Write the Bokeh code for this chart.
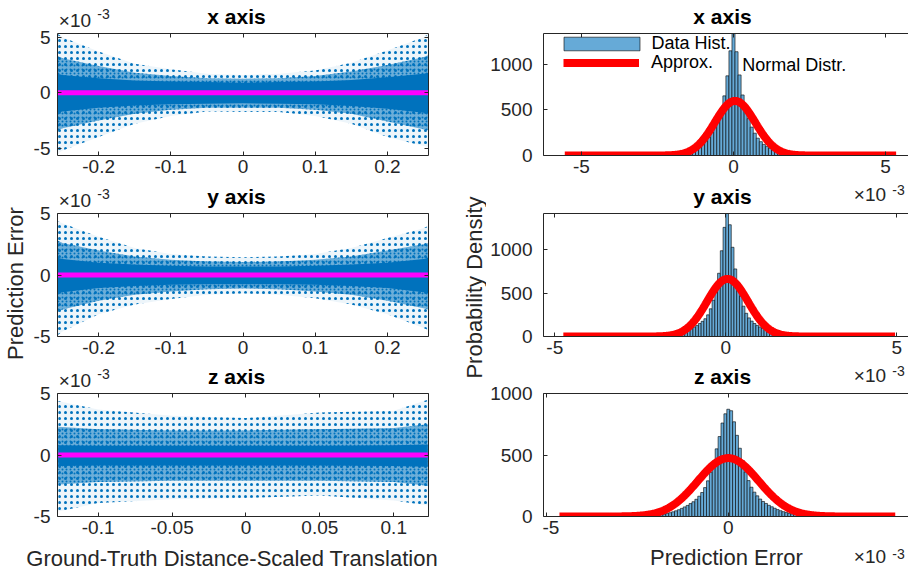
import numpy as np
from bokeh.plotting import figure
from bokeh.layouts import row, column
from bokeh.models import Range1d, LinearAxis, FixedTicker, Label, Legend, LegendItem, Spacer
from bokeh.embed import file_html
from bokeh.resources import INLINE

FONT = "Liberation Sans"
AX = "#262626"
BLUE = "#0072BD"
HIST_FILL = "#66AAD7"
MAGENTA = "#FF00FF"
RED = "#FF0000"

# ------------------------------------------------------------------ data
# Left column: prediction error (x10^-3) vs ground-truth distance-scaled translation.
# The clouds are described by their envelopes.
tl_x = [-0.257, -0.25, -0.2, -0.15, -0.1, -0.05, 0.0, 0.05, 0.1, 0.15, 0.2, 0.25, 0.257]
tl_outer_hi = [5.3, 5.0, 3.7, 2.6, 2.1, 1.7, 1.6, 1.7, 2.0, 2.7, 3.8, 5.0, 5.3]
tl_outer_lo = [-5.5, -5.2, -4.0, -2.8, -2.1, -1.7, -1.75, -1.75, -2.1, -2.8, -4.0, -4.8, -4.9]
tl_mid_hi = [3.3, 3.1, 2.4, 1.8, 1.5, 1.3, 1.25, 1.3, 1.5, 1.9, 2.5, 3.2, 3.4]
tl_mid_lo = [-3.4, -3.2, -2.5, -1.9, -1.55, -1.35, -1.35, -1.35, -1.55, -1.9, -2.6, -3.3, -3.4]
tl_core_hi = [1.7, 1.6, 1.3, 1.1, 1.0, 0.95, 0.9, 0.95, 1.0, 1.15, 1.4, 1.7, 1.8]
tl_core_lo = [-1.8, -1.7, -1.35, -1.15, -1.05, -1.0, -0.95, -1.0, -1.05, -1.2, -1.45, -1.8, -1.9]

ml_x = [-0.257, -0.25, -0.2, -0.15, -0.1, -0.05, 0.0, 0.05, 0.1, 0.15, 0.2, 0.25, 0.257]
ml_outer_hi = [4.4, 4.2, 3.1, 2.2, 1.7, 1.5, 1.45, 1.5, 1.7, 2.2, 3.0, 3.8, 4.0]
ml_outer_lo = [-4.9, -4.6, -3.2, -2.4, -1.95, -1.6, -1.5, -1.6, -1.9, -2.4, -3.2, -4.3, -4.5]
ml_mid_hi = [2.8, 2.6, 2.0, 1.5, 1.25, 1.1, 1.05, 1.1, 1.25, 1.5, 2.0, 2.5, 2.6]
ml_mid_lo = [-3.0, -2.8, -2.1, -1.6, -1.35, -1.15, -1.1, -1.15, -1.35, -1.6, -2.1, -2.7, -2.8]
ml_core_hi = [1.4, 1.3, 1.0, 0.85, 0.75, 0.7, 0.7, 0.7, 0.75, 0.85, 1.0, 1.3, 1.4]
ml_core_lo = [-1.5, -1.4, -1.05, -0.9, -0.8, -0.75, -0.75, -0.75, -0.8, -0.9, -1.05, -1.4, -1.5]

bl_x = [-0.127, -0.1, -0.05, 0.0, 0.05, 0.1, 0.123]
bl_outer_hi = [4.4, 3.7, 3.2, 3.0, 3.45, 3.6, 4.5]
bl_outer_lo = [-4.6, -3.9, -3.6, -3.5, -3.3, -3.7, -4.1]
bl_mid_hi = [2.3, 2.1, 2.0, 2.0, 2.1, 2.2, 2.5]
bl_mid_lo = [-2.4, -2.2, -2.1, -2.1, -2.1, -2.2, -2.5]
bl_core_hi = [0.8, 0.75, 0.75, 0.75, 0.75, 0.8, 0.85]
bl_core_lo = [-0.9, -0.85, -0.85, -0.85, -0.85, -0.9, -0.95]

# magenta reference line (prediction error = 0) over the data span
tl_zero_x = [-0.257, 0.257]
ml_zero_x = [-0.257, 0.257]
bl_zero_x = [-0.127, 0.123]
zero_y = [0.0, 0.0]

# Right column: histograms (probability density) of the prediction error (x10^-3)
tr_first_center, tr_bin_width = -2.5, 0.1
tr_counts = [2, 3, 4, 6, 8, 11, 15, 20, 26, 34, 44, 56, 70, 88, 108, 132, 162, 200, 255, 318,
             405, 515, 655, 875, 1150, 1480, 1140, 885, 665, 520, 405, 312, 245, 190, 152, 122,
             98, 78, 62, 48, 37, 28, 21, 16, 12, 9, 6, 4, 3, 2, 1]
mr_first_center, mr_bin_width = -1.96, 0.08
mr_counts = [7, 10, 13, 17, 22, 28, 35, 42, 50, 60, 70, 82, 95, 110, 128, 150, 175, 205, 250,
             320, 420, 540, 730, 990, 1260, 1600, 1290, 1030, 780, 590, 465, 350, 268, 215, 178,
             150, 128, 110, 95, 82, 70, 60, 50, 42, 35, 28, 22, 17, 13, 10, 7]
br_first_center, br_bin_width = -2.32, 0.08
br_counts = [3, 4, 5, 7, 9, 12, 16, 20, 25, 31, 38, 46, 55, 66, 78, 90, 105, 120, 140, 165,
             195, 235, 290, 360, 450, 550, 650, 760, 835, 872, 860, 770, 660, 555, 455, 362,
             292, 238, 198, 168, 142, 122, 106, 91, 79, 67, 56, 47, 39, 32, 26, 21, 16, 12, 9,
             7, 5, 4, 3]

# fitted normal distributions (mean, std in x10^-3) and the data span they are drawn over
tr_mu, tr_sigma, tr_span = 0.05, 0.665, (-5.55, 5.35)
mr_mu, mr_sigma, mr_span = 0.05, 0.60, (-4.75, 4.95)
br_mu, br_sigma, br_span = 0.0, 0.84, (-4.65, 4.6)

# tick values / labels
lr_xticks = [-0.2, -0.1, 0.0, 0.1, 0.2]
lr_xlabels = ["-0.2", "-0.1", "0", "0.1", "0.2"]
bl_xticks = [-0.1, -0.05, 0.0, 0.05, 0.1]
bl_xlabels = ["-0.1", "-0.05", "0", "0.05", "0.1"]
left_yticks = [-5, 0, 5]
left_ylabels = ["-5", "0", "5"]
hist_xticks = [-5, 0, 5]
hist_xlabels = ["-5", "0", "5"]
hist_yticks = [0, 500, 1000]
hist_ylabels = ["0", "500", "1000"]

titles = ["x axis", "y axis", "z axis"]
left_ylabel = "Prediction Error"
left_xlabel = "Ground-Truth Distance-Scaled Translation"
right_ylabel = "Probability Density"
right_xlabel = "Prediction Error"
exp_base, exp_power = "×10", "-3"
legend_hist = "Data Hist."
legend_fit_a = "Approx."
legend_fit_b = "Normal Distr."

# axis ranges (x10^-3 for errors)
tl_xr, tl_yr = (-0.257, 0.257), (-5.66, 5.33)
ml_xr, ml_yr = (-0.257, 0.257), (-5.0, 5.0)
bl_xr, bl_yr = (-0.1275, 0.1235), (-5.0, 5.0)
tr_yr, mr_yr, br_yr = (0, 1340), (0, 1420), (0, 1000)

# ------------------------------------------------------------------ helpers
AXIS_COMMON = dict(axis_line_color=AX, axis_line_width=1, major_tick_line_color=AX,
                   major_tick_line_width=1, major_tick_in=4, major_tick_out=0,
                   minor_tick_line_color=None, major_label_text_font=FONT,
                   major_label_text_color=AX)


def blank(fig):
    fig.outline_line_color = None
    fig.grid.grid_line_color = None
    fig.background_fill_color = "white"
    fig.border_fill_color = "white"
    return fig


def make_fig(fw, fh, br, bt, bb, xr, yr):
    p = figure(frame_width=fw, frame_height=fh, x_range=Range1d(*xr), y_range=Range1d(*yr),
               x_axis_location=None, y_axis_location=None, output_backend="svg",
               toolbar_location=None, title=None,
               min_border_left=1, min_border_right=br, min_border_top=bt, min_border_bottom=bb)
    return blank(p)


def hidden_axis(ticks):
    return LinearAxis(ticker=FixedTicker(ticks=ticks, minor_ticks=[]),
                      major_label_overrides={t: "" for t in ticks},
                      major_label_standoff=0, major_label_text_font_size="0px", **AXIS_COMMON)


def add_axes(p, xt, xl, yt, right=True):
    p.add_layout(LinearAxis(ticker=FixedTicker(ticks=xt, minor_ticks=[]),
                            major_label_overrides={t: s for t, s in zip(xt, xl)},
                            major_label_standoff=4, major_label_text_font_size="19px",
                            **AXIS_COMMON), "below")
    p.add_layout(hidden_axis(yt), "left")
    p.add_layout(hidden_axis(xt), "above")
    if right:
        p.add_layout(hidden_axis(yt), "right")


def tick_fig(border_left, fh, bt, bb, yr, yt, yl, standoff):
    """Narrow canvas carrying only the y tick labels of one plot."""
    t = figure(frame_width=1, frame_height=fh, x_range=Range1d(0, 1), y_range=Range1d(*yr),
               x_axis_location=None, y_axis_location=None, output_backend="svg",
               toolbar_location=None, title=None, min_border_left=border_left,
               min_border_right=0, min_border_top=bt, min_border_bottom=bb)
    blank(t)
    t.add_layout(LinearAxis(ticker=FixedTicker(ticks=yt, minor_ticks=[]),
                            major_label_overrides={v: s for v, s in zip(yt, yl)},
                            major_label_standoff=standoff, major_label_text_font_size="19px",
                            major_tick_in=0, major_tick_out=0, minor_tick_in=0,
                            minor_tick_out=0, axis_line_color=None,
                            major_tick_line_color=None, minor_tick_line_color=None,
                            major_label_text_font=FONT, major_label_text_color=AX), "left")
    return t


class Strip:
    """A text-only canvas. Texts are placed by page coordinates relative to its frame
    (frame left edge fx0, canvas top y0, height h)."""

    def __init__(self, fx0, y0, w, h, bl=0, br=0):
        self.x0, self.y0, self.h = fx0, y0, h
        s = figure(width=w, height=h, min_border=0, min_border_left=bl, min_border_right=br,
                   x_range=Range1d(0, 1), y_range=Range1d(0, 1), x_axis_location=None,
                   y_axis_location=None, output_backend="svg", toolbar_location=None,
                   title=None)
        self.fig = blank(s)

    def text(self, px, py, text, size, bold=False, align="left", angle=0.0, color=AX,
             mid=False):
        # py is the baseline (or the centre when mid=True) in page pixels
        cy = py if mid else py - 0.35 * size
        self.fig.add_layout(Label(x=px - self.x0, y=self.y0 + self.h - cy,
                                  x_units="screen", y_units="screen", text=text,
                                  text_font=FONT, text_font_size=f"{size}px",
                                  text_font_style="bold" if bold else "normal",
                                  text_align=align, text_baseline="middle", angle=angle,
                                  text_color=color))

    def title(self, px, py, text):
        self.text(px, py, text, 21, bold=True, align="center", color="black")

    def exponent(self, px, py, rise=8.4):
        self.text(px, py, exp_base, 19)
        self.text(px + 38.5, py - rise, exp_power, 14)


def cloud(p, xs, olo, ohi, mlo, mhi, clo, chi, zx):
    p.varea(x=xs, y1=olo, y2=ohi, fill_color=BLUE, fill_alpha=0.07,
            hatch_pattern=".", hatch_color=BLUE, hatch_scale=6, hatch_weight=1.3)
    p.varea(x=xs, y1=mlo, y2=mhi, fill_color=BLUE, fill_alpha=0.55,
            hatch_pattern=".", hatch_color=BLUE, hatch_scale=4, hatch_weight=1.5)
    p.varea(x=xs, y1=clo, y2=chi, fill_color=BLUE, fill_alpha=1.0)
    p.line(x=zx, y=zero_y, line_color=MAGENTA, line_width=5)


def hist(p, first, width, counts, mu, sigma, span):
    centers = first + width * np.arange(len(counts))
    h = p.quad(left=centers - width / 2, right=centers + width / 2, bottom=0, top=counts,
               fill_color=HIST_FILL, line_color="black", line_width=0.6)
    xs = np.linspace(span[0], span[1], 400)
    ys = np.exp(-0.5 * ((xs - mu) / sigma) ** 2) / (sigma * 1e-3 * np.sqrt(2 * np.pi))
    c = p.line(xs, ys, line_color=RED, line_width=8)
    return h, c


# ------------------------------------------------------------------ left block (x 0..442)
LW, LR = 371, 14
LCOL = 1 + LW + LR          # plot column x 56..442
tl = make_fig(LW, 122, LR, 2, 26, tl_xr, tl_yr)
cloud(tl, tl_x, tl_outer_lo, tl_outer_hi, tl_mid_lo, tl_mid_hi, tl_core_lo, tl_core_hi, tl_zero_x)
add_axes(tl, lr_xticks, lr_xlabels, left_yticks)

ml = make_fig(LW, 123, LR, 2, 26, ml_xr, ml_yr)
cloud(ml, ml_x, ml_outer_lo, ml_outer_hi, ml_mid_lo, ml_mid_hi, ml_core_lo, ml_core_hi, ml_zero_x)
add_axes(ml, lr_xticks, lr_xlabels, left_yticks)

bl = make_fig(LW, 123, LR, 2, 29, bl_xr, bl_yr)
cloud(bl, bl_x, bl_outer_lo, bl_outer_hi, bl_mid_lo, bl_mid_hi, bl_core_lo, bl_core_hi, bl_zero_x)
add_axes(bl, bl_xticks, bl_xlabels, left_yticks)

s0 = Strip(57, 0, LCOL, 31, 1, LR)
s0.title(236, 23.5, titles[0])
s0.exponent(58.3, 26.7)
s1 = Strip(57, 181, LCOL, 30, 1, LR)
s1.title(236, 203.3, titles[1])
s1.exponent(58.3, 206.5)
s2 = Strip(57, 362, LCOL, 29, 1, LR)
s2.title(236, 383.3, titles[2])
s2.exponent(58.3, 386.5)

# y tick labels of the left plots (x 26..56)
TLW = 30
tk_tl = tick_fig(TLW - 1, 122, 13, 10, tl_yr, left_yticks, left_ylabels, 5)   # 20..165
tk_ml = tick_fig(TLW - 1, 123, 18, 11, ml_yr, left_yticks, left_ylabels, 5)   # 195..347
tk_bl = tick_fig(TLW - 1, 123, 18, 11, bl_yr, left_yticks, left_ylabels, 5)   # 375..527
tick_col_l = column(Spacer(width=TLW, height=20), tk_tl, Spacer(width=TLW, height=30), tk_ml,
                    Spacer(width=TLW, height=28), tk_bl, Spacer(width=TLW, height=18),
                    spacing=0)

ylab_l = Strip(0, 0, 26, 545)
ylab_l.text(14.5, 283, left_ylabel, 22, align="center", angle=np.pi / 2, mid=True)

xl_strip = Strip(0, 545, 442, 27)
xl_strip.text(231.7, 566, left_xlabel, 22, align="center")

# ------------------------------------------------------------------ right block (x 442..908)
RW = 365
RCOL = 1 + RW               # plot column x 542..908
tr = make_fig(RW, 122, 0, 2, 26, (-6.25, -6.25 + RW / 30.4), tr_yr)
tr_h, tr_c = hist(tr, tr_first_center, tr_bin_width, tr_counts, tr_mu, tr_sigma, tr_span)
add_axes(tr, hist_xticks, hist_xlabels, hist_yticks, right=False)
leg_common = dict(padding=0, margin=0, spacing=0, border_line_color=None,
                  background_fill_alpha=0, label_text_font=FONT, label_text_font_size="18px",
                  label_text_color="black", glyph_height=17, label_height=17, label_width=10)
tr.add_layout(Legend(items=[LegendItem(label=legend_hist, renderers=[tr_h])],
                     location=(10.5, 101), glyph_width=95, label_standoff=3, **leg_common))
tr.add_layout(Legend(items=[LegendItem(label=legend_fit_a, renderers=[tr_c])],
                     location=(20, 82), glyph_width=76, label_standoff=12, **leg_common))
tr.add_layout(Label(x=198.7, y=90.5, x_units="screen", y_units="screen", text=legend_fit_b,
                    text_font=FONT, text_font_size="18px", text_baseline="middle",
                    text_color="black"))

mr = make_fig(RW, 123, 0, 2, 26, (-5.33, -5.33 + RW / 34.2), mr_yr)
mr_h, mr_c = hist(mr, mr_first_center, mr_bin_width, mr_counts, mr_mu, mr_sigma, mr_span)
add_axes(mr, hist_xticks, hist_xlabels, hist_yticks, right=False)

br = make_fig(RW, 123, 0, 2, 29, (-5.09, -5.09 + RW / 36.3), br_yr)
br_h, br_c = hist(br, br_first_center, br_bin_width, br_counts, br_mu, br_sigma, br_span)
add_axes(br, hist_xticks, hist_xlabels, hist_yticks, right=False)

r0 = Strip(543, 0, RCOL, 31, 1, 0)
r0.title(722, 23.5, titles[0])
r1 = Strip(543, 181, RCOL, 30, 1, 0)
r1.exponent(853.3, 200.5, rise=6.5)
r1.title(722, 203.3, titles[1])
r2 = Strip(543, 362, RCOL, 29, 1, 0)
r2.exponent(853.3, 382.0, rise=7.0)
r2.title(722, 383.3, titles[2])
r3 = Strip(543, 545, RCOL, 27, 1, 0)
r3.exponent(853.3, 563.0, rise=5.0)
r3.text(726, 565, right_xlabel, 22, align="center")

# y tick labels of the right plots (x 486..542)
TRW = 56
tk_tr = tick_fig(TRW - 1, 122, 33, 12, tr_yr, hist_yticks, hist_ylabels, 9)   # 0..167
tk_mr = tick_fig(TRW - 1, 123, 13, 11, mr_yr, hist_yticks, hist_ylabels, 9)   # 200..347
tk_br = tick_fig(TRW - 1, 123, 13, 11, br_yr, hist_yticks, hist_ylabels, 9)   # 380..527
tick_col_r = column(tk_tr, Spacer(width=TRW, height=33), tk_mr, Spacer(width=TRW, height=33),
                    tk_br, Spacer(width=TRW, height=45), spacing=0)

ylab_r = Strip(442, 0, 44, 572)
ylab_r.text(473.5, 287, right_ylabel, 22, align="center", angle=np.pi / 2, mid=True)

plots_l = column(s0.fig, tl, s1.fig, ml, s2.fig, bl, spacing=0)
left = column(row(ylab_l.fig, tick_col_l, plots_l, spacing=0), xl_strip.fig, spacing=0)
plots_r = column(r0.fig, tr, r1.fig, mr, r2.fig, br, r3.fig, spacing=0)
right = row(ylab_r.fig, tick_col_r, plots_r, spacing=0)
layout = row(left, right, spacing=0)

open("out.html", "w").write(file_html(layout, INLINE))
